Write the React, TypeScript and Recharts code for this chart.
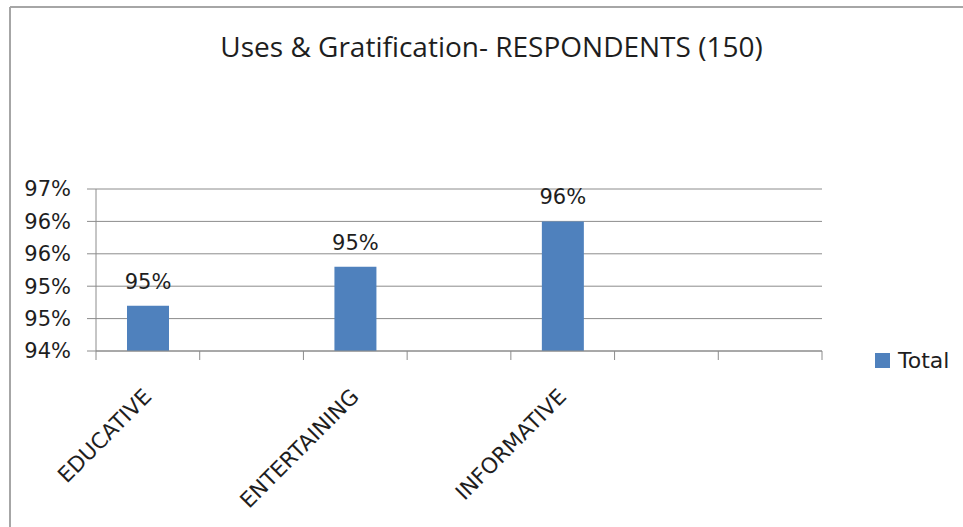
import React from 'react';
import { BarChart, Bar, XAxis, YAxis, CartesianGrid, Legend, LabelList } from 'recharts';

// Share of respondents (out of 150) per gratification category
const categories = ['EDUCATIVE', '', 'ENTERTAINING', '', 'INFORMATIVE', '', ''];
const totals: (number | null)[] = [94.7, null, 95.3, null, 96, null, null];
const yTicks = [94, 94.5, 95, 95.5, 96, 96.5];
const seriesName = 'Total';
const chartTitle = 'Uses & Gratification- RESPONDENTS (150)';

const data = categories.map((name, i) => ({ name, total: totals[i] }));

const W = 963;
const H = 527;
const BLUE = '#4f81bd';
const GRID = '#8c8c8c';
const INK = '#1e1e1e';
const AXIS_FONT = '"DejaVu Sans", Verdana, sans-serif';

const pct = (v: any) => (v === null || v === undefined ? '' : `${Math.round(Number(v))}%`);

function CategoryTick(props: any) {
  const { x, y, payload, index } = props;
  const half = payload && typeof payload.offset === 'number' ? payload.offset : 0;
  const last = index === categories.length - 1;
  const label = payload ? String(payload.value ?? '') : '';
  const lx = x + 5;
  const ly = y + 47;
  return (
    <g>
      <line x1={x - half} x2={x - half} y1={y} y2={y + 9} stroke={GRID} strokeWidth={1} />
      {last && <line x1={x + half} x2={x + half} y1={y} y2={y + 9} stroke={GRID} strokeWidth={1} />}
      {label && (
        <text
          x={lx}
          y={ly}
          transform={`rotate(-45, ${lx}, ${ly})`}
          textAnchor="end"
          fontFamily={AXIS_FONT}
          fontSize={21.5}
          fill={INK}
        >
          {label}
        </text>
      )}
    </g>
  );
}

function LegendContent() {
  return (
    <div style={{ display: 'flex', alignItems: 'center', fontFamily: AXIS_FONT, fontSize: 22, color: INK }}>
      <span style={{ display: 'inline-block', width: 15, height: 15, background: BLUE, marginRight: 8 }} />
      <span>{seriesName}</span>
    </div>
  );
}

export default function App() {
  return (
    <div style={{ position: 'absolute', left: 0, top: 0, width: W, height: H, background: '#fff', overflow: 'hidden' }}>
      <BarChart
        width={W}
        height={H}
        data={data}
        margin={{ top: 189, right: 141, bottom: 76, left: 10 }}
      >
        <CartesianGrid vertical={false} stroke={GRID} strokeWidth={1} />
        <XAxis
          dataKey="name"
          interval={0}
          height={100}
          tickSize={0}
          tickMargin={0}
          tickLine={false}
          axisLine={{ stroke: GRID, strokeWidth: 1 }}
          tick={<CategoryTick />}
        />
        <YAxis
          domain={[94, 96.5]}
          ticks={yTicks}
          allowDataOverflow
          width={86}
          tickSize={9}
          tickMargin={16}
          tickFormatter={pct}
          axisLine={{ stroke: GRID, strokeWidth: 1 }}
          tickLine={{ stroke: GRID, strokeWidth: 1 }}
          tick={{ fill: INK, fontSize: 21, fontFamily: AXIS_FONT }}
        />
        <Legend
          layout="horizontal"
          align="center"
          verticalAlign="middle"
          content={<LegendContent />}
          wrapperStyle={{ left: 875, top: 348, width: 90, height: 26 }}
        />
        <Bar dataKey="total" name={seriesName} fill={BLUE} barSize={42} isAnimationActive={false}>
          <LabelList
            dataKey="total"
            position="top"
            offset={17}
            formatter={pct}
            fill={INK}
            fontSize={21}
            fontFamily={AXIS_FONT}
          />
        </Bar>
      </BarChart>
      <svg
        width={W}
        height={H}
        style={{ position: 'absolute', left: 0, top: 0, pointerEvents: 'none' }}
      >
        <line x1={10} y1={7} x2={W} y2={7} stroke="#a6a6a6" strokeWidth={2} />
        <line x1={10} y1={7} x2={10} y2={H} stroke="#a6a6a6" strokeWidth={2} />
        <text
          x={491.5}
          y={57}
          textAnchor="middle"
          fontFamily='"Open Sans", "Noto Sans", sans-serif'
          fontSize={28}
          fill={INK}
        >
          {chartTitle}
        </text>
      </svg>
    </div>
  );
}
